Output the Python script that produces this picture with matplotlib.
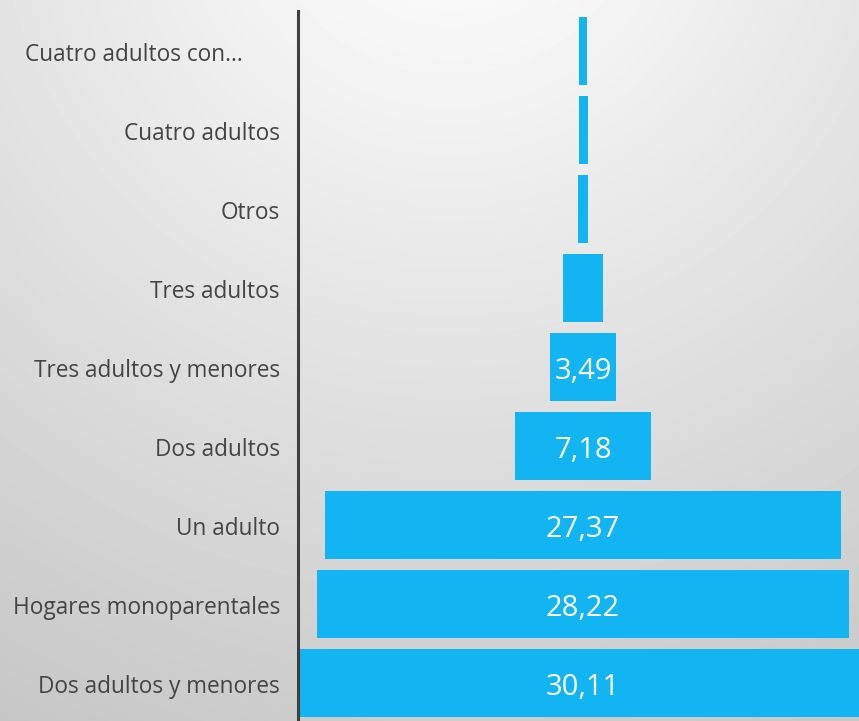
import numpy as np
import matplotlib
matplotlib.use("Agg")
import matplotlib.pyplot as plt
import matplotlib.transforms as mtransforms

plt.rcParams['font.family'] = ['Open Sans', 'DejaVu Sans']

# funnel stages, top to bottom
categories = ["Cuatro adultos con...", "Cuatro adultos", "Otros", "Tres adultos",
              "Tres adultos y menores", "Dos adultos", "Un adulto",
              "Hogares monoparentales", "Dos adultos y menores"]
values = [0.39, 0.48, 0.58, 2.15, 3.49, 7.18, 27.37, 28.22, 30.11]

W, H = 859, 721
fig = plt.figure(figsize=(W / 100, H / 100), dpi=100)

# soft gray radial-ish background
bg = fig.add_axes([0, 0, 1, 1])
xx, yy = np.meshgrid(np.arange(W), np.arange(H))
d = np.sqrt((xx - 450) ** 2 + (yy + 120) ** 2)
shade = 0.975 - 0.2 * np.clip((d - 120) / 830, 0, 1.2)
bg.imshow(shade, cmap='gray', vmin=0, vmax=1, aspect='auto', interpolation='bilinear')
bg.axis('off')

left = 298 / W
bottom = 0
top = 1 - 11 / H
ax = fig.add_axes([left, bottom, 1 - left, top - bottom])
ax.patch.set_alpha(0)

y = np.arange(len(categories))
vals = np.array(values)
ax.barh(y, vals, left=-vals / 2, height=0.86, color='#12b5f1')

# nudge text a few pixels down, like the original
down = mtransforms.ScaledTranslation(0, -4 / 100, fig.dpi_scale_trans)

for i, v in enumerate(values):
    if v >= 3:
        ax.text(0, i, f"{v:.2f}".replace('.', ','), ha='center', va='center',
                color='white', fontsize=21, transform=ax.transData + down)

trans = mtransforms.blended_transform_factory(fig.transFigure, ax.transData) + down
for i, c in enumerate(categories):
    if c.endswith('...'):
        ax.text(25 / W, i, c, transform=trans, ha='left', va='center',
                color='#444444', fontsize=16.3)
    else:
        ax.text(280 / W, i, c, transform=trans, ha='right', va='center',
                color='#444444', fontsize=16.3)

ax.set_xlim(-15.12, 14.64)
ax.set_ylim(8.48, -0.506)
ax.set_xticks([])
ax.set_yticks([])
for s in ['top', 'right', 'bottom']:
    ax.spines[s].set_visible(False)
ax.spines['left'].set_color('#404040')
ax.spines['left'].set_linewidth(2.2)

fig.savefig('out.png', dpi=100)
